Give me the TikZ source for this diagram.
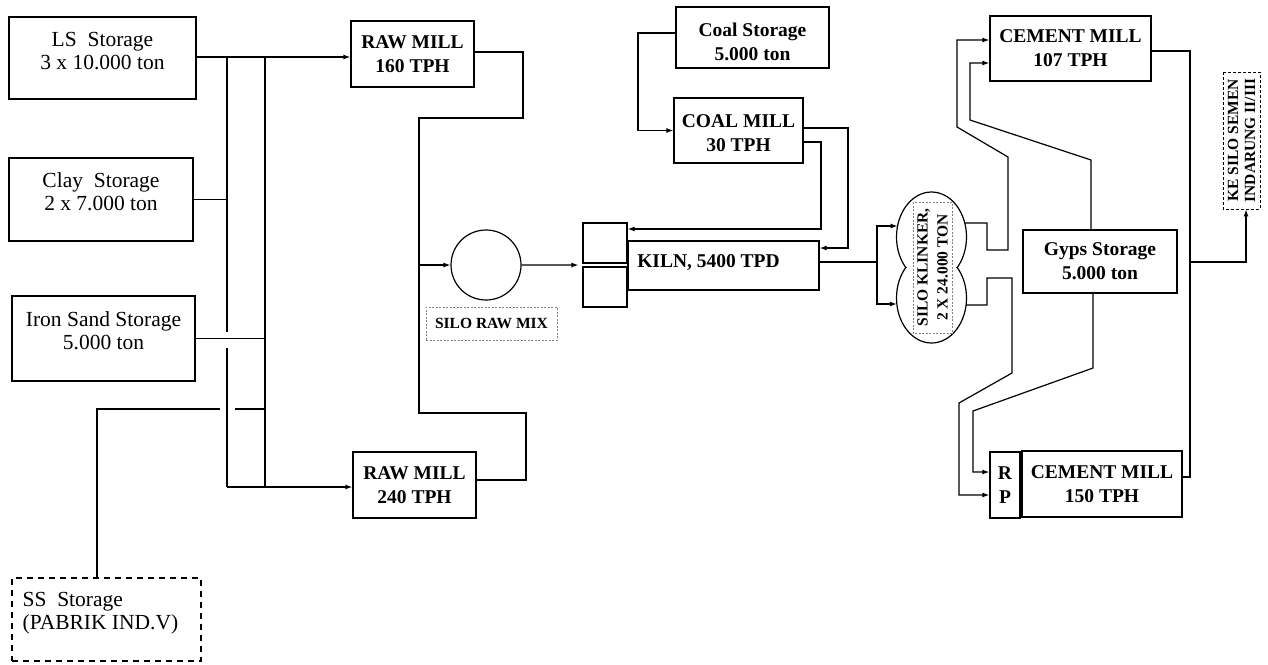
\documentclass[tikz,border=0pt]{standalone}
\usepackage{fontspec}
\setmainfont{Liberation Serif}
\usetikzlibrary{arrows.meta,shapes.geometric,calc}
\begin{document}
\begin{tikzpicture}[x=1pt,y=-1pt,
  line width=1.2pt,
  box/.style={draw, rectangle, inner sep=0pt, line width=1.2pt},
  reg/.style={font=\fontsize{21.5}{23}\selectfont, align=center, inner sep=0pt},
  bld/.style={font=\fontsize{19.5}{24}\selectfont\bfseries, align=center, inner sep=0pt},
  sml/.style={font=\fontsize{15.5}{19}\selectfont\bfseries, align=center, inner sep=0pt},
  flow/.style={-{Latex[length=7pt,width=5pt]}},
  tag/.style={draw=gray, dash pattern=on 2pt off 1.5pt, line width=0.6pt},
]
\useasboundingbox[fill=white] (0,0) rectangle (1268,664);

% ---- storages left
\node[box, minimum width=187pt, minimum height=82pt] (ls) at (102.5,58) {};
\node[reg] (lsT) at (102.5,51.5) {LS\enspace Storage\\3 x 10.000 ton};
\node[box, minimum width=184pt, minimum height=83pt] (clay) at (101,199.5) {};
\node[reg] (clayT) at (101,192) {Clay\enspace Storage\\2 x 7.000 ton};
\node[box, minimum width=183pt, minimum height=85pt] (iron) at (103.5,338.5) {};
\node[reg] (ironT) at (103.5,330.5) {Iron Sand Storage\\5.000 ton};
\node[box, dash pattern=on 6pt off 5pt, minimum width=189pt, minimum height=83pt] (ss) at (106.5,619.5) {};
\node[reg, align=left, anchor=west] (ssT) at (22,613.5) {SS\enspace Storage\\(PABRIK IND.V)};

% ---- raw mills
\node[box, bld, minimum width=123pt, minimum height=66pt] (rm1) at (412.5,54) {RAW MILL\\160 TPH};
\node[box, bld, minimum width=123pt, minimum height=66pt] (rm2) at (414.5,485) {RAW MILL\\240 TPH};

% ---- silo raw mix
\node[draw, circle, minimum size=70pt, inner sep=0pt] (rawmix) at (486,265) {};
\node[sml, tag, minimum width=131pt, minimum height=33pt] (rawmixT) at (491.5,323.5) {SILO RAW MIX};

% ---- kiln
\node[box, minimum width=44pt, minimum height=40pt] (feed1) at (605,243) {};
\node[box, minimum width=44pt, minimum height=40pt] (feed2) at (605,287) {};
\node[box, minimum width=191pt, minimum height=49pt] (kiln) at (723.5,265.5) {};
\node[bld] (kilnT) at (708.5,263) {KILN, 5400 TPD};

% ---- coal
\node[box, minimum width=153pt, minimum height=61pt] (cs) at (752.5,37.5) {};
\node[bld] (csT) at (752.5,41.5) {Coal Storage\\5.000 ton};
\node[box, minimum width=129pt, minimum height=65pt] (cm) at (738.5,130.5) {};
\node[bld] (cmT) at (738.5,133.5) {COAL MILL\\30 TPH};

% ---- silo klinker
\node[ellipse, minimum width=70pt, minimum height=90pt, inner sep=0pt] (sk1) at (931.5,237) {};
\node[ellipse, minimum width=70pt, minimum height=90pt, inner sep=0pt] (sk2) at (931.5,298) {};
\begin{scope}
  \clip (880,150) rectangle (990,267.5);
  \draw (sk1.center) ellipse [x radius=35pt, y radius=45pt];
\end{scope}
\begin{scope}
  \clip (880,267.5) rectangle (990,360);
  \draw (sk2.center) ellipse [x radius=35pt, y radius=45pt];
\end{scope}
\node[tag, rotate=90, minimum width=131pt, minimum height=39pt, inner sep=0pt, align=center,
      font=\fontsize{15.5}{20}\selectfont\bfseries] (skT) at (932.5,267.5) {SILO KLINKER,\\2 X 24.000 TON};

% ---- cement
\node[box, bld, minimum width=161pt, minimum height=65pt] (cm107) at (1070.5,48.5) {CEMENT MILL\\107 TPH};
\node[box, bld, minimum width=154pt, minimum height=63pt] (gyps) at (1100,261.5) {Gyps Storage\\5.000 ton};
\node[box, bld, minimum width=30pt, minimum height=66pt] (rp) at (1005,485) {R\\P};
\node[box, bld, minimum width=160pt, minimum height=66pt] (cm150) at (1102,484) {CEMENT MILL\\150 TPH};
\node[draw, dash pattern=on 3pt off 2pt, line width=0.7pt, rotate=90, minimum width=137pt, minimum height=37pt,
      inner sep=0pt, align=center, font=\fontsize{15.5}{17}\selectfont\bfseries] (ke) at (1241.5,140.5)
      {KE SILO SEMEN\\INDARUNG II/III};

% ---- connectors: raw material feed
\coordinate (busA) at (227,57);
\coordinate (busB) at (265,57);
\coordinate (busEnd) at (227,487);
\draw[flow] (ls.east |- busA) -- (rm1.west |- busA);
\draw (busA) -- (227,332);
\draw (227,348) -- (busEnd);
\draw[flow] (busEnd) -- (rm2.west |- busEnd);
\draw (busB) -- (busB |- busEnd);
\draw (clay.east) -- (clay.east -| busA);
\draw (iron.east) -- (iron.east -| busB);
\coordinate (ssTop) at (97,409);
\draw (ss.north -| ssTop) -- (ssTop) -- (220,409);
\draw (235,409) -- (ssTop -| busB);

% ---- raw mills to silo raw mix
\draw ([yshift=2pt]rm1.east) -- (523,52) -- (523,118) -- (419,118) -- (419,413) -- (526,413) -- (526,480) -- ([yshift=5pt]rm2.east);
\draw[flow] (419,265) -- (rawmix.west);
\draw[flow, shorten >=4pt] (rawmix.east) -- ($(feed1.south west)!.5!(feed2.north west)$);

% ---- coal
\draw[flow] ([yshift=4.5pt]cs.west) -- (638,33) -- (638,130.5) -- (cm.west);
\draw[flow] ([yshift=2.5pt]cm.east) -- (848,128) -- (848,248) -- ([yshift=17.5pt]kiln.east);
\draw[flow] ([yshift=-11.5pt]cm.east) -- (821,142) -- (821,229) -- ([yshift=14pt]feed1.east);

% ---- kiln to silo klinker
\draw ([yshift=3.5pt]kiln.east) -- (877,262);
\draw[flow] (877,262) -- (877,226) -- (897.6,226);
\draw[flow] (877,262) -- (877,304) -- (896.8,304);

% ---- silo klinker and gyps to cement mills
\draw[flow] (964.8,223) -- (987,223) -- (987,250) -- (1008,250) -- (1008,157) -- (957,127) -- (957,40) -- ([yshift=8.5pt]cm107.west);
\draw[flow] ([xshift=-9pt]gyps.north) -- (1091,160) -- (970,120) -- (970,63) -- ([yshift=-14.5pt]cm107.west);
\draw[flow] (966.1,305) -- (987,305) -- (987,278) -- (1012,278) -- (1012,373) -- (959,403) -- (959,495) -- ([yshift=-10pt]rp.west);
\draw[flow] ([xshift=-7pt]gyps.south) -- (1093,368) -- (973,411) -- (973,472) -- ([yshift=13pt]rp.west);

% ---- cement out
\draw ([yshift=-2.5pt]cm107.east) -- (1190,51) -- (1190,477) -- ([yshift=7pt]cm150.east);
\coordinate (keTurn) at (1246,262);
\draw[flow] (1190,262) -- (keTurn) -- (keTurn |- ke.west);
\end{tikzpicture}
\end{document}
